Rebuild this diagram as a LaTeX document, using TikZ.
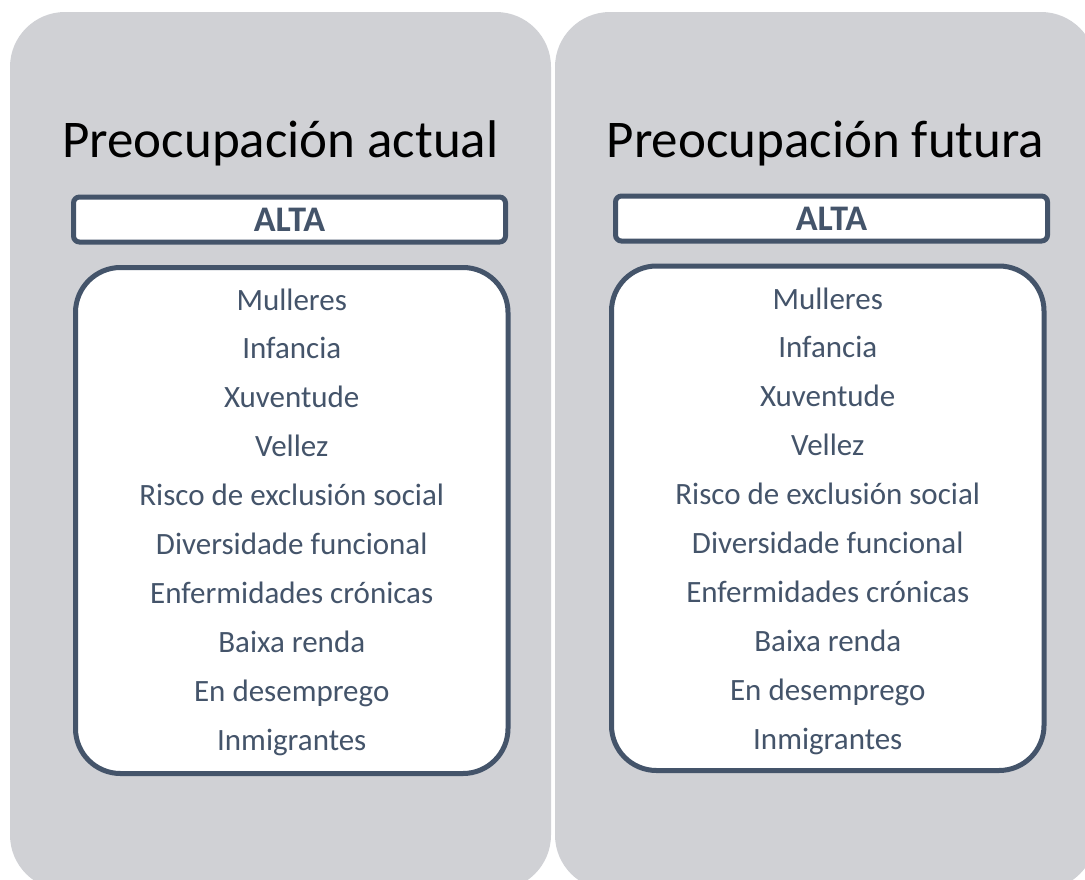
\documentclass[tikz,border=0pt]{standalone}
\usepackage{fontspec}
\setmainfont{Carlito}
\definecolor{panelgray}{RGB}{208,209,213}
\definecolor{slate}{RGB}{68,84,106}
\begin{document}
\begin{tikzpicture}[x=1pt,y=-1pt,
  panel/.style={fill=panelgray, rounded corners=55pt},
  title/.style={anchor=base, font=\fontsize{53}{60}\selectfont, text=black, inner sep=0pt},
  altabox/.style={draw=slate, fill=white, line width=5pt, rounded corners=6pt, minimum width=432pt, minimum height=45pt, inner sep=0pt, text=slate, font=\fontsize{36}{42}\bfseries\selectfont},
  listbox/.style={draw=slate, fill=white, line width=5pt, rounded corners=45pt, inner sep=0pt},
  item/.style={anchor=base, text=slate, font=\fontsize{31}{37}\selectfont, inner sep=0pt}
]
\useasboundingbox (0,0) rectangle (1085,879);
\clip (0,0) rectangle (1085,879);
% panels
\fill[panel] (10,12) rectangle (551,890);
\fill[panel] (555,12) rectangle (1096,890);
% titles
\node[title] (t1) at (280.5,157) {Preocupación actual};
\node[title] (t2) at (825.5,157) {Preocupación futura};
% ALTA boxes
\node[altabox] (a1) at (289.5,219.5) {ALTA};
\node[altabox] (a2) at (831.5,218.5) {ALTA};
% list boxes
\node[listbox, minimum width=432.5pt, minimum height=506pt] (l1) at (291.75,520.5) {};
\node[listbox, minimum width=432.5pt, minimum height=504.5pt] (l2) at (827.75,518.25) {};
% items
\foreach \txt [count=\i from 0] in {Mulleres,Infancia,Xuventude,Vellez,Risco de exclusión social,Diversidade funcional,Enfermidades crónicas,Baixa renda,En desemprego,Inmigrantes}{
  \node[item] (p\i) at (291.75,{310+48.9*\i}) {\txt};
  \node[item] (q\i) at (827.75,{309+48.9*\i}) {\txt};
}
\end{tikzpicture}
\end{document}
